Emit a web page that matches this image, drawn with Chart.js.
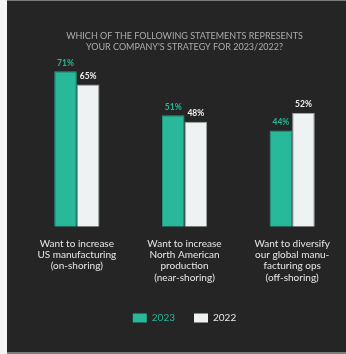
<!DOCTYPE html>
<html>
<head>
<meta charset="utf-8">
<script src="https://cdn.jsdelivr.net/npm/chart.js@4"></script>
<style>
  html, body { margin: 0; padding: 0; background: #f4f4f4; }
  #wrap { width: 346px; height: 354px; }
</style>
</head>
<body>
<div id="wrap"><canvas id="c" width="346" height="354"></canvas></div>
<script>
const titleLines = ["WHICH OF THE FOLLOWING STATEMENTS REPRESENTS", "YOUR COMPANY'S STRATEGY FOR 2023/2022?"];
const categories = [
  ["Want to increase", "US manufacturing", "(on-shoring)"],
  ["Want to increase", "North American", "production", "(near-shoring)"],
  ["Want to diversify", "our global manu-", "facturing ops", "(off-shoring)"]
];
const seriesNames = ["2023", "2022"];
const values2023 = [71, 51, 44];
const values2022 = [65, 48, 52];

const GREEN = "#27b99a";
const GREEN_TEXT = "#2ab596";
const WHITE = "#eef2f2";
const FONT = "Lato, 'Open Sans', sans-serif";

const bgPlugin = {
  id: "bg",
  beforeDraw(chart) {
    const ctx = chart.ctx;
    ctx.save();
    ctx.fillStyle = "#7c7c7c";
    ctx.fillRect(0, 0, chart.width, chart.height);
    ctx.fillStyle = "#f4f4f4";
    ctx.fillRect(0, 0, 7, chart.height);
    ctx.fillStyle = "#252525";
    ctx.fillRect(7, 1, chart.width - 7, 351);
    ctx.restore();
  }
};

const valueLabels = {
  id: "valueLabels",
  afterDatasetsDraw(chart) {
    const ctx = chart.ctx;
    ctx.save();
    ctx.font = "bold 8.5px " + FONT;
    ctx.textAlign = "center";
    ctx.textBaseline = "bottom";
    chart.data.datasets.forEach((ds, i) => {
      const meta = chart.getDatasetMeta(i);
      ctx.fillStyle = i === 0 ? GREEN_TEXT : "#f0f0f0";
      meta.data.forEach((bar, j) => {
        ctx.fillText(ds.data[j] + "%", bar.x, bar.y - 4);
      });
    });
    ctx.restore();
  }
};

new Chart(document.getElementById("c"), {
  type: "bar",
  data: {
    labels: categories,
    datasets: [
      { label: seriesNames[0], data: values2023, backgroundColor: GREEN, borderColor: "#1f9c81", borderWidth: 1 },
      { label: seriesNames[1], data: values2022, backgroundColor: WHITE, borderColor: "#9da3a3", borderWidth: 1 }
    ]
  },
  options: {
    responsive: false,
    animation: false,
    devicePixelRatio: 1,
    layout: { padding: { left: 23, right: 0, top: 0, bottom: 21 } },
    datasets: { bar: { categoryPercentage: 0.42, barPercentage: 1.0 } },
    scales: {
      x: {
        grid: { display: false, drawTicks: false },
        border: { display: false },
        ticks: {
          color: "#e6e6e6",
          font: { family: FONT, size: 10, lineHeight: 1.13 },
          maxRotation: 0, minRotation: 0, autoSkip: false,
          padding: 11
        }
      },
      y: {
        display: false,
        min: 0, max: 76,
        grid: { display: false }
      }
    },
    plugins: {
      title: {
        display: true,
        text: titleLines,
        color: "#ababab",
        font: { family: FONT, size: 9, weight: "normal", lineHeight: 1.3 },
        padding: { top: 30, bottom: 7 }
      },
      legend: {
        position: "bottom",
        labels: {
          boxWidth: 14, boxHeight: 9,
          padding: 19,
          font: { family: FONT, size: 10 },
          generateLabels(chart) {
            return chart.data.datasets.map((ds, i) => ({
              text: ds.label,
              fillStyle: ds.backgroundColor,
              strokeStyle: ds.backgroundColor,
              lineWidth: 0,
              fontColor: i === 0 ? GREEN_TEXT : "#e8e8e8",
              datasetIndex: i,
              hidden: false
            }));
          }
        }
      },
      tooltip: { enabled: false }
    }
  },
  plugins: [bgPlugin, valueLabels]
});
</script>
</body>
</html>
